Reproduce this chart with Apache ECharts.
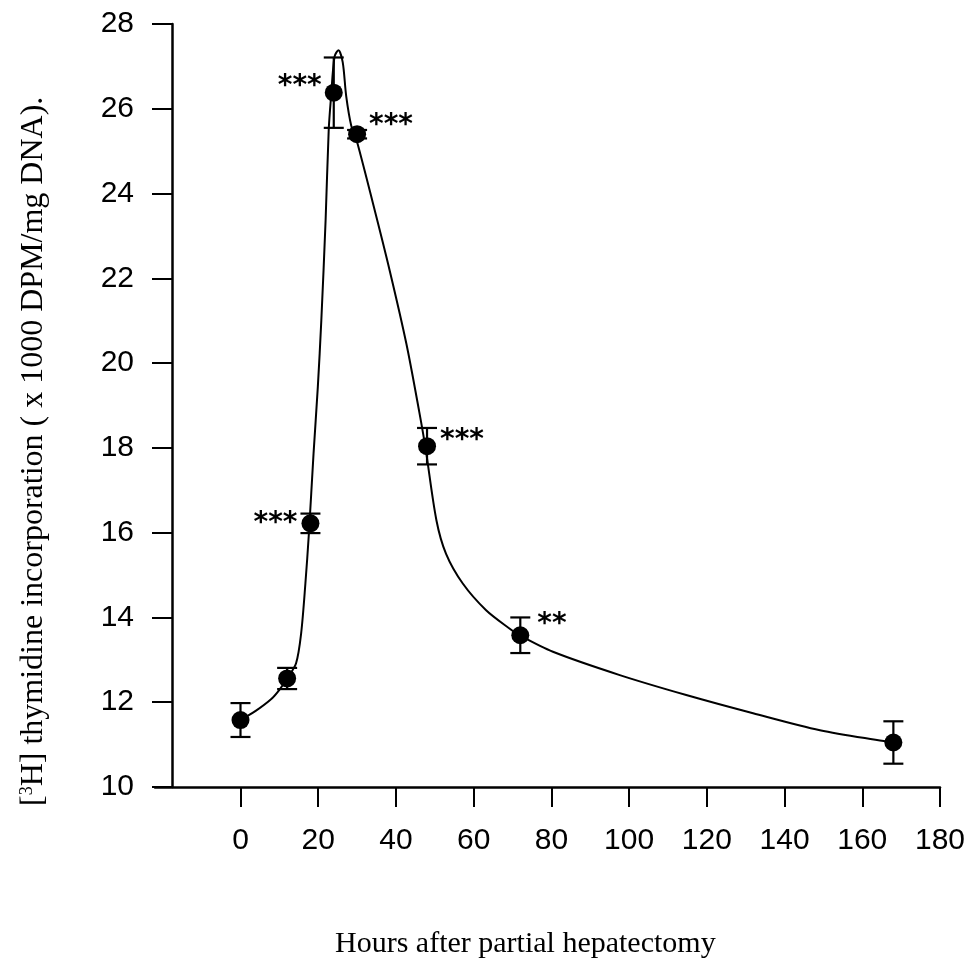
<!DOCTYPE html>
<html>
<head>
<meta charset="utf-8">
<style>
  html, body { margin: 0; padding: 0; background: #fff; }
  #chart { width: 975px; height: 968px; }
</style>
<script src="https://cdn.jsdelivr.net/npm/echarts@6/dist/echarts.min.js"></script>
</head>
<body>
<div id="chart"></div>
<script>
// Sampling times (h) after partial hepatectomy and mean incorporation
const hours = [0, 12, 18, 24, 30, 48, 72, 168];
const incorporation = [11.58, 12.56, 16.22, 26.38, 25.40, 18.04, 13.58, 11.05];
const sem = [0.40, 0.25, 0.23, 0.83, 0.10, 0.43, 0.42, 0.50];
const significance = ['', '', '***', '***', '***', '***', '**', ''];

// Fitted time-course curve
const fitHours = [0, 4, 8, 10, 12, 14.3, 15.6, 16.7, 17.6, 18.8, 19.9, 20.8, 21.9, 22.7, 23.3, 24.2, 25.2, 26.3, 27.2, 28.5, 29.6,
                  34, 38.4, 42.7, 46, 47.6, 50.4, 52.9, 57.2, 63.2, 69.2, 71.8, 80.4, 97.6, 114.7, 131.9, 149.1, 168];
const fitValues = [11.58, 11.80, 12.08, 12.29, 12.56, 12.92, 13.62, 14.8, 15.98, 17.87, 19.44, 21.01, 23.37, 25.5, 26.28, 27.23, 27.38, 27.1, 26.3, 25.6, 25.35,
                   23.8, 22.18, 20.45, 18.85, 18.0, 16.3, 15.5, 14.8, 14.17, 13.74, 13.58, 13.19, 12.64, 12.17, 11.74, 11.34, 11.05];

// Axis ticks
const xTicks = [0, 20, 40, 60, 80, 100, 120, 140, 160, 180];

const chart = echarts.init(document.getElementById('chart'), null, { renderer: 'canvas' });

// Where each significance mark sits relative to its point: side, gap, vertical shift
const starSide = { 2: ['left', 4, -8], 3: ['left', 3, -14], 4: ['right', 3, -16], 5: ['right', 4, -13], 6: ['right', 8, -19] };

const points = hours.map((h, i) => {
  const item = { value: [h, incorporation[i]] };
  if (significance[i]) {
    const s = starSide[i];
    item.label = {
      show: true,
      formatter: significance[i],
      position: s[0],
      distance: s[1],
      offset: [0, s[2] + 8],
      color: '#000',
      fontFamily: 'DejaVu Sans',
      fontWeight: 'bold',
      fontSize: 28
    };
  }
  return item;
});

const errorData = hours.map((h, i) => [h, incorporation[i] - sem[i], incorporation[i] + sem[i]]);
const fitData = fitHours.map((h, i) => [h, fitValues[i]]);

const axisFont = { fontFamily: 'Liberation Sans', fontSize: 30, color: '#000' };

chart.setOption({
  animation: false,
  backgroundColor: '#fff',
  grid: { left: 155, right: 35, top: 24, bottom: 181, containLabel: false },
  xAxis: {
    type: 'value',
    min: -22,
    max: 180,
    splitLine: { show: false },
    axisLine: { show: true, onZero: false, lineStyle: { color: '#000', width: 2.5 } },
    axisTick: { show: true, customValues: xTicks, length: 20, lineStyle: { color: '#000', width: 2 } },
    axisLabel: Object.assign({ customValues: xTicks, margin: 39 }, axisFont)
  },
  yAxis: {
    type: 'value',
    min: 10,
    max: 28,
    interval: 2,
    offset: -17,
    splitLine: { show: false },
    axisLine: { show: true, onZero: false, lineStyle: { color: '#000', width: 2.5 } },
    axisTick: { show: true, length: 20, lineStyle: { color: '#000', width: 2 } },
    axisLabel: Object.assign({ margin: 38 }, axisFont)
  },
  graphic: [
    {
      type: 'text',
      left: 335,
      top: 929,
      style: {
        text: 'Hours after partial hepatectomy',
        font: '30px "Liberation Serif"',
        fill: '#000'
      }
    },
    {
      type: 'text',
      x: 18,
      y: 806,
      rotation: Math.PI / 2,
      style: {
        text: '{b|[}{sup|3}{b|H] thymidine incorporation ( x 1000 DPM/mg DNA).}',
        fill: '#000',
        rich: {
          b: { fontFamily: 'Liberation Serif', fontSize: 32, fill: '#000' },
          sup: { fontFamily: 'Liberation Serif', fontSize: 18, fill: '#000', verticalAlign: 'top', padding: [0, 0, 12, 0] }
        }
      }
    }
  ],
  series: [
    {
      type: 'line',
      data: fitData,
      showSymbol: false,
      smooth: 0.3,
      lineStyle: { color: '#000', width: 2 },
      z: 2
    },
    {
      type: 'custom',
      data: errorData,
      renderItem: function (params, api) {
        const x = api.coord([api.value(0), api.value(1)])[0];
        const lo = api.coord([api.value(0), api.value(1)])[1];
        const hi = api.coord([api.value(0), api.value(2)])[1];
        const cap = 10;
        const style = { stroke: '#000', lineWidth: 2.2 };
        return {
          type: 'group',
          children: [
            { type: 'line', shape: { x1: x, y1: lo, x2: x, y2: hi }, style: style },
            { type: 'line', shape: { x1: x - cap, y1: lo, x2: x + cap, y2: lo }, style: style },
            { type: 'line', shape: { x1: x - cap, y1: hi, x2: x + cap, y2: hi }, style: style }
          ]
        };
      },
      z: 3
    },
    {
      type: 'scatter',
      data: points,
      symbol: 'circle',
      symbolSize: 18,
      itemStyle: { color: '#000', opacity: 1 },
      z: 4
    }
  ]
});
</script>
</body>
</html>
